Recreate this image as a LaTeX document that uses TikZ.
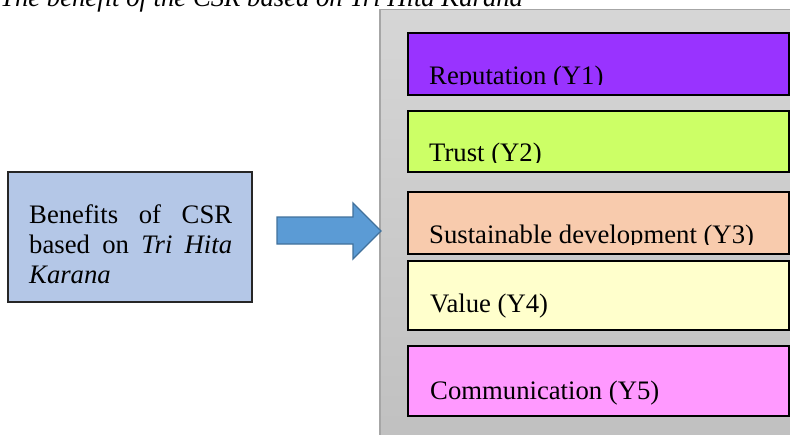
\documentclass[tikz,border=0pt]{standalone}
\usepackage{fontspec}
\setmainfont{Liberation Serif}
\begin{document}
\begin{tikzpicture}[x=1pt,y=-1pt,
  txt/.style={font=\fontsize{26.7}{30}\selectfont, text=black, inner sep=0pt, anchor=base west},
  itembox/.style={draw=black, line width=1.2pt},
  panelborder/.style={draw=black!35, line width=1.2pt}
]
\definecolor{cRep}{HTML}{9933FF}
\definecolor{cTrust}{HTML}{CCFF66}
\definecolor{cSust}{HTML}{F8CBAD}
\definecolor{cVal}{HTML}{FFFFCC}
\definecolor{cCom}{HTML}{FF99FF}
\definecolor{cLeft}{HTML}{B4C7E7}
\definecolor{cArrow}{HTML}{5B9BD5}
\definecolor{cArrowB}{HTML}{41719C}
\definecolor{cPanelTop}{HTML}{D6D6D6}
\definecolor{cPanelBot}{HTML}{C0C0C0}

\useasboundingbox (0,0) rectangle (790,434);
\clip (0,0) rectangle (790,434);

% caption line above the figure
\node[txt] (title) at (0,6) {\itshape The benefit of the CSR based on Tri Hita Karana};

% grey panel holding the five benefits
\shade[top color=cPanelTop, bottom color=cPanelBot] (380,9.5) rectangle (800,445);
\draw[panelborder] (380,445) -- (380,9.5) -- (800,9.5);

% benefit boxes
\draw[itembox, fill=cRep]   (408,33)  rectangle (789,95)  coordinate (rep);
\draw[itembox, fill=cTrust] (408,111) rectangle (789,172) coordinate (trust);
\draw[itembox, fill=cSust]  (408,192) rectangle (789,254) coordinate (sust);
\draw[itembox, fill=cVal]   (408,261) rectangle (789,330) coordinate (val);
\draw[itembox, fill=cCom]   (408,346) rectangle (789,416) coordinate (com);

% labels (the first three are cut off at the baseline by their text frames)
\begin{scope}
  \clip (408,33) rectangle (789,84.5);
  \node[txt] (lrep) at (429,84) {Reputation (Y1)};
\end{scope}
\begin{scope}
  \clip (408,111) rectangle (789,162);
  \node[txt] (ltrust) at (429,161.5) {Trust (Y2)};
\end{scope}
\begin{scope}
  \clip (408,192) rectangle (789,244);
  \node[txt] (lsust) at (429,243.5) {Sustainable development (Y3)};
\end{scope}
\node[txt] (lval) at (430,312) {Value (Y4)};
\node[txt] (lcom) at (430,399) {Communication (Y5)};

% source box
\draw[draw=black!85, line width=1.2pt, fill=cLeft] (8,172) rectangle (252,302);
\node[txt] (src1) at (29,223) {\makebox[203pt][s]{Benefits\hfill of\hfill CSR}};
\node[txt] (src2) at (29,253) {\makebox[203pt][s]{based\hfill on\hfill \textit{Tri}\hfill \textit{Hita}}};
\node[txt] (src3) at (29,283) {\textit{Karana}};

% block arrow
\draw[draw=cArrowB, line width=1.3pt, fill=cArrow, line join=miter]
  (277,217) -- (353,217) -- (353,203) -- (381,231) -- (353,259) -- (353,244) -- (277,244) -- cycle;
\end{tikzpicture}
\end{document}
